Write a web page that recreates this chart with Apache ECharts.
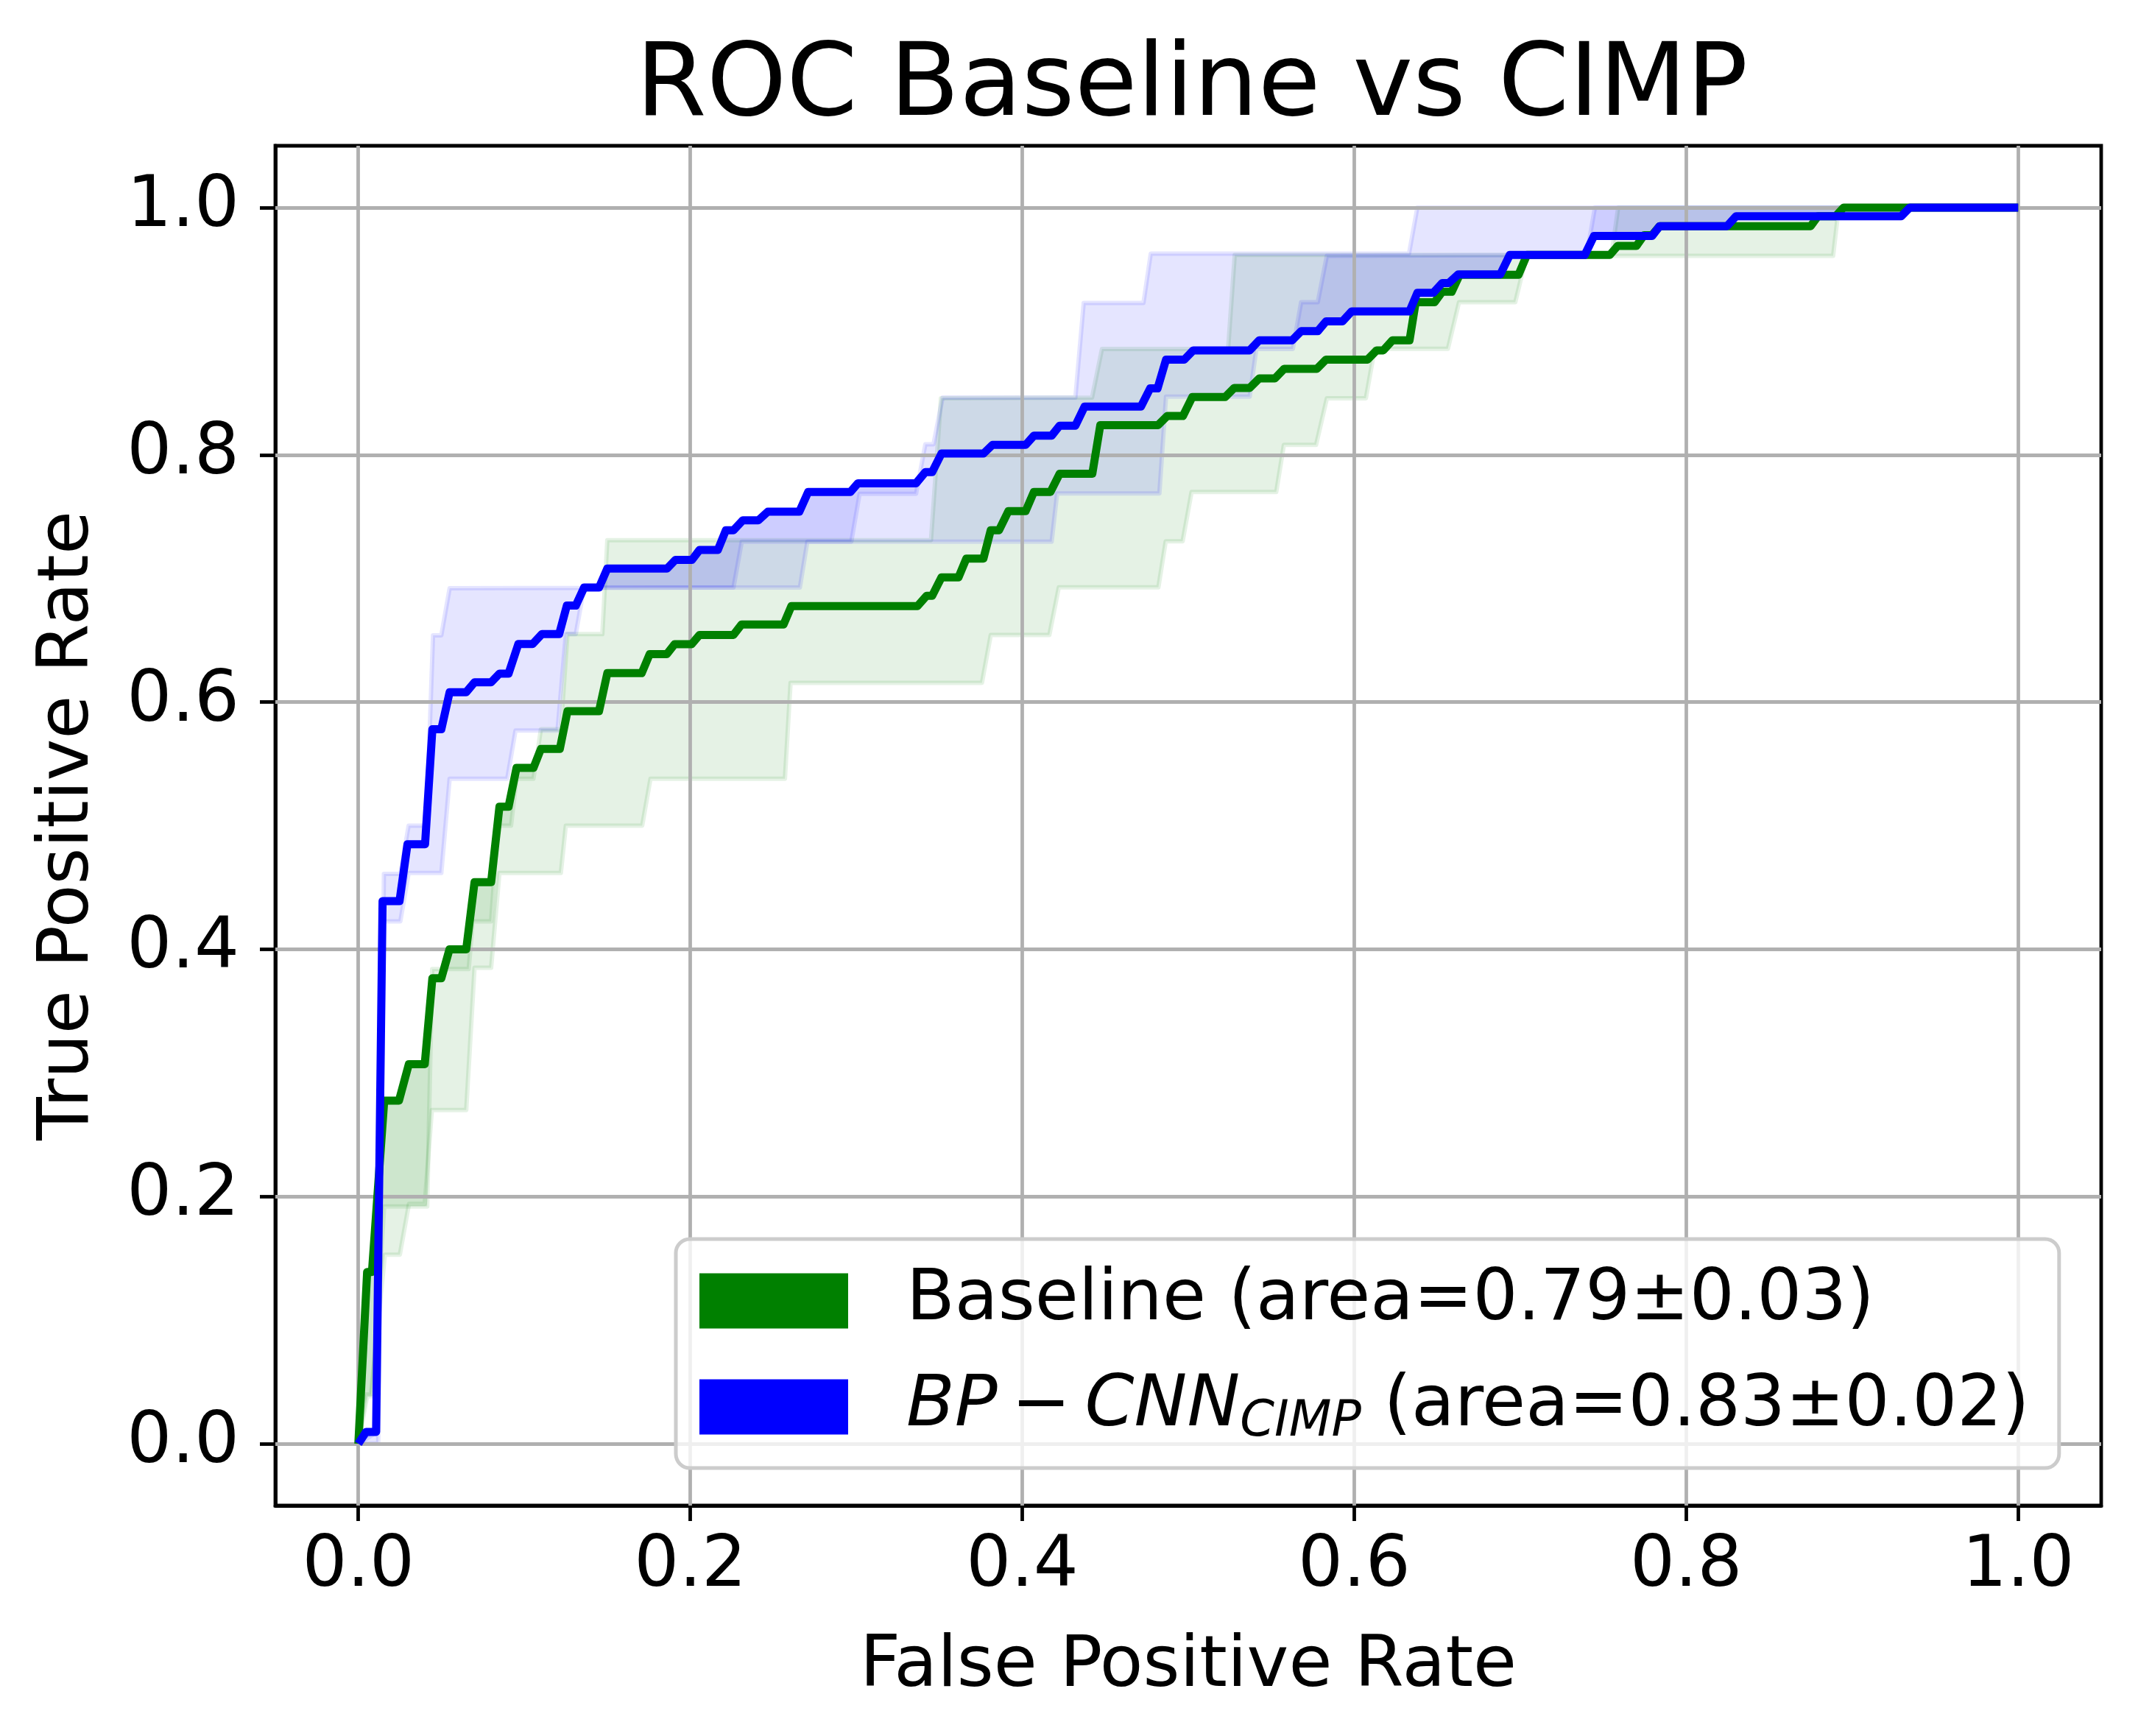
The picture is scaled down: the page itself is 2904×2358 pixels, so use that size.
<!DOCTYPE html>
<html>
<head>
<meta charset="utf-8">
<script src="https://cdn.jsdelivr.net/npm/echarts@6/dist/echarts.min.js"></script>
<style>html,body{margin:0;padding:0;background:#fff;}#c{width:2904px;height:2358px;}</style>
</head>
<body>
<div id="c"></div>
<script>
// ---- tick values ----
const xTicks = [0, 0.2, 0.4, 0.6, 0.8, 1.0];
const yTicks = [0, 0.2, 0.4, 0.6, 0.8, 1.0];

// ---- Baseline: mean ROC (fpr, tpr) ----
const baselineMean = [[0,0],[0.0053,0.139],[0.0082,0.139],[0.0156,0.2776],[0.0245,0.2776],[0.0304,0.307],[0.040,0.307],[0.0446,0.3766],[0.050,0.3766],[0.0549,0.40],[0.065,0.40],[0.070,0.4543],[0.080,0.4543],[0.085,0.5153],[0.0905,0.5153],[0.0953,0.5468],[0.1055,0.5468],[0.110,0.5621],[0.1214,0.5621],[0.126,0.5926],[0.145,0.5926],[0.150,0.6234],[0.1707,0.6234],[0.1755,0.6387],[0.1858,0.6387],[0.1905,0.6468],[0.2008,0.6468],[0.2055,0.6543],[0.226,0.6543],[0.2309,0.6628],[0.2562,0.6628],[0.2609,0.6777],[0.3369,0.6777],[0.3424,0.686],[0.3457,0.686],[0.3513,0.7009],[0.3616,0.7009],[0.3663,0.7161],[0.3766,0.7161],[0.381,0.739],[0.386,0.739],[0.3916,0.7544],[0.402,0.7544],[0.407,0.770],[0.417,0.770],[0.4225,0.7847],[0.4422,0.7847],[0.447,0.824],[0.4818,0.824],[0.4873,0.8314],[0.4968,0.8314],[0.5024,0.8467],[0.5222,0.8467],[0.5277,0.8541],[0.537,0.8541],[0.5427,0.8618],[0.5522,0.8618],[0.5578,0.8696],[0.5775,0.8696],[0.583,0.877],[0.608,0.877],[0.6135,0.8845],[0.6175,0.8845],[0.623,0.8926],[0.6333,0.8926],[0.637,0.9234],[0.6484,0.9234],[0.653,0.9319],[0.6587,0.9319],[0.6635,0.9457],[0.699,0.9457],[0.704,0.9617],[0.754,0.9617],[0.7587,0.969],[0.770,0.969],[0.7746,0.9777],[0.7794,0.9777],[0.784,0.985],[0.875,0.985],[0.8793,0.993],[0.890,0.993],[0.8948,1.0],[1.0,1.0]];
// ---- Baseline: shaded band edges ----
const baselineEdgeHigh = [[0,0],[0.0053,0.0385],[0.0082,0.0385],[0.0156,0.192],[0.0415,0.192],[0.0445,0.384],[0.0665,0.384],[0.0689,0.4226],[0.080,0.4226],[0.084,0.50],[0.092,0.50],[0.0953,0.538],[0.1055,0.538],[0.110,0.578],[0.122,0.578],[0.126,0.655],[0.147,0.655],[0.150,0.731],[0.345,0.731],[0.351,0.8457],[0.442,0.8463],[0.448,0.8856],[0.524,0.8856],[0.528,0.9617],[0.755,0.9617],[0.759,1.0],[1.0,1.0]];
const baselineEdgeLow = [[0,0],[0.0046,0.04],[0.0076,0.04],[0.016,0.153],[0.025,0.153],[0.0305,0.194],[0.040,0.194],[0.0443,0.27],[0.065,0.27],[0.070,0.385],[0.080,0.385],[0.085,0.4617],[0.122,0.4617],[0.125,0.50],[0.171,0.50],[0.176,0.538],[0.257,0.538],[0.2604,0.6156],[0.3757,0.6156],[0.381,0.6542],[0.4163,0.6542],[0.422,0.6928],[0.482,0.6928],[0.4864,0.730],[0.4966,0.730],[0.502,0.77],[0.553,0.77],[0.5576,0.808],[0.577,0.808],[0.5835,0.8457],[0.607,0.8457],[0.6123,0.8857],[0.6564,0.8857],[0.6631,0.9234],[0.697,0.9234],[0.7038,0.961],[0.8885,0.961],[0.8919,1.0],[1.0,1.0]];

// ---- BP-CNN_CIMP: mean ROC ----
const cimpMean = [[0,0],[0.0046,0.0096],[0.0107,0.0096],[0.0146,0.439],[0.0248,0.439],[0.0296,0.485],[0.0402,0.485],[0.0446,0.578],[0.050,0.578],[0.055,0.608],[0.065,0.608],[0.070,0.616],[0.080,0.616],[0.085,0.623],[0.0905,0.623],[0.0964,0.647],[0.105,0.647],[0.1106,0.655],[0.121,0.655],[0.1256,0.678],[0.131,0.678],[0.136,0.6926],[0.145,0.6926],[0.150,0.708],[0.186,0.708],[0.191,0.715],[0.201,0.715],[0.2055,0.723],[0.2166,0.723],[0.2214,0.739],[0.226,0.739],[0.2316,0.747],[0.241,0.747],[0.2467,0.754],[0.2657,0.754],[0.271,0.770],[0.2965,0.770],[0.301,0.777],[0.336,0.777],[0.3416,0.786],[0.3457,0.786],[0.3513,0.801],[0.3766,0.801],[0.382,0.808],[0.402,0.808],[0.407,0.8155],[0.4177,0.8155],[0.4225,0.8236],[0.432,0.8236],[0.4375,0.839],[0.4715,0.839],[0.477,0.8537],[0.4815,0.8537],[0.4866,0.877],[0.4976,0.877],[0.503,0.8845],[0.537,0.8845],[0.5427,0.8926],[0.5625,0.8926],[0.568,0.900],[0.578,0.900],[0.583,0.908],[0.5929,0.908],[0.5984,0.916],[0.6333,0.916],[0.638,0.931],[0.6476,0.931],[0.653,0.939],[0.657,0.939],[0.6627,0.946],[0.688,0.946],[0.6937,0.9617],[0.7389,0.9617],[0.7444,0.977],[0.7794,0.977],[0.784,0.985],[0.8246,0.985],[0.830,0.993],[0.9296,0.993],[0.9347,1.0],[1.0,1.0]];
// ---- BP-CNN_CIMP: shaded band edges ----
const cimpEdgeHigh = [[0,0],[0.012,0.01],[0.0154,0.461],[0.0253,0.461],[0.0303,0.50],[0.041,0.50],[0.045,0.654],[0.050,0.654],[0.055,0.692],[0.226,0.6926],[0.231,0.7298],[0.297,0.7298],[0.302,0.7685],[0.336,0.7685],[0.3416,0.8085],[0.3465,0.8085],[0.352,0.8463],[0.432,0.8463],[0.437,0.9228],[0.473,0.9228],[0.4774,0.9627],[0.633,0.9627],[0.638,1.0],[1.0,1.0]];
const cimpEdgeLow = [[0,0],[0.012,0.0],[0.0154,0.4226],[0.0253,0.4226],[0.0303,0.4617],[0.050,0.4617],[0.055,0.538],[0.0897,0.538],[0.0947,0.577],[0.120,0.577],[0.125,0.655],[0.131,0.655],[0.136,0.6926],[0.266,0.6926],[0.2705,0.7298],[0.4177,0.7298],[0.421,0.7688],[0.4826,0.7688],[0.4866,0.847],[0.537,0.847],[0.541,0.8856],[0.563,0.8856],[0.568,0.9234],[0.578,0.9234],[0.5835,0.961],[0.740,0.9617],[0.745,1.0],[1.0,1.0]];

const FONT = 'DejaVu Sans';
const GREEN = '#008000', BLUE = '#0000ff';

function bandSeries(name, mean, edges, fill) {
  return {
    type: 'custom', name: name, z: 1, silent: true, animation: false,
    data: edges.map((e, i) => [i, i]),
    renderItem: function (params, api) {
      const edge = edges[params.dataIndex];
      const pts = mean.map(p => api.coord(p)).concat(edge.slice().reverse().map(p => api.coord(p)));
      return { type: 'polygon', shape: { points: pts },
        style: { fill: fill, stroke: fill, lineWidth: 6, lineJoin: 'round' } };
    }
  };
}

const chart = echarts.init(document.getElementById('c'), null, { renderer: 'canvas' });
const axisCommon = {
  type: 'value', min: -0.05, max: 1.05,
  axisLine: { show: true, onZero: false, lineStyle: { color: '#000', width: 4.8 } },
  axisTick: { show: true, inside: false, length: 21, lineStyle: { color: '#000', width: 4.8 } },
  splitLine: { show: false },
  nameLocation: 'middle',
  nameTextStyle: { fontSize: 96, color: '#000', fontFamily: FONT }
};
chart.setOption({
  animation: false,
  backgroundColor: '#fff',
  title: {
    text: 'ROC Baseline vs CIMP', left: 1614, top: 46, textAlign: 'center',
    textStyle: { fontSize: 138, fontWeight: 'normal', color: '#000', fontFamily: FONT }
  },
  grid: { left: 374, top: 198, width: 2480, height: 1847, show: true, borderColor: '#000', borderWidth: 4.8, backgroundColor: 'transparent' },
  xAxis: Object.assign({}, axisCommon, {
    name: 'False Positive Rate', nameGap: 172,
    axisTick: Object.assign({}, axisCommon.axisTick, { customValues: xTicks }),
    axisLabel: { customValues: xTicks, formatter: v => v.toFixed(1), margin: 36, fontSize: 96, color: '#000', fontFamily: FONT }
  }),
  yAxis: Object.assign({}, axisCommon, {
    name: 'True Positive Rate', nameGap: 232,
    axisTick: Object.assign({}, axisCommon.axisTick, { customValues: yTicks }),
    axisLabel: { customValues: yTicks, formatter: v => v.toFixed(1), margin: 49, fontSize: 96, color: '#000', fontFamily: FONT }
  }),
  legend: {
    orient: 'vertical', left: 918, top: 1683,
    data: [{ name: 'Baseline', icon: 'rect' }, { name: 'BP-CNN', icon: 'rect' }],
    itemWidth: 202, itemHeight: 75, itemGap: 48,
    padding: [36, 40, 28, 32],
    backgroundColor: 'rgba(255,255,255,0.8)', borderColor: '#cccccc', borderWidth: 5, borderRadius: 19,
    selectedMode: false,
    formatter: function (name) {
      return name === 'Baseline' ? '{t|Baseline (area=0.79\u00b10.03)}'
        : '{i|BP\u2009\u2212\u2009CNN}{s|CIMP}{t| (area=0.83\u00b10.02)}';
    },
    textStyle: {
      padding: [0, 0, 0, 74], fontSize: 96, fontFamily: FONT, color: '#000',
      rich: {
        t: { fontSize: 96, fontFamily: FONT, color: '#000', lineHeight: 110 },
        i: { fontSize: 96, fontFamily: FONT, fontStyle: 'italic', color: '#000', lineHeight: 110 },
        s: { fontSize: 67, fontFamily: FONT, fontStyle: 'italic', color: '#000', lineHeight: 56, verticalAlign: 'bottom' }
      }
    }
  },
  series: [
    bandSeries('bandBaseline', baselineMean, [baselineEdgeHigh, baselineEdgeLow], 'rgba(0,128,0,0.1)'),
    bandSeries('bandCimp', cimpMean, [cimpEdgeHigh, cimpEdgeLow], 'rgba(0,0,255,0.1)'),
    {
      type: 'line', name: 'grid', data: [], z: 2, silent: true,
      markLine: {
        z: 2, silent: true, symbol: ['none', 'none'], label: { show: false }, animation: false,
        lineStyle: { color: '#b0b0b0', width: 4.8, type: 'solid' },
        emphasis: { disabled: true },
        data: xTicks.map(v => ({ xAxis: v })).concat(yTicks.map(v => ({ yAxis: v })))
      }
    },
    { type: 'line', name: 'Baseline', data: baselineMean, z: 3, showSymbol: false, color: GREEN,
      lineStyle: { color: GREEN, width: 11, join: 'round' }, silent: true },
    { type: 'line', name: 'BP-CNN', data: cimpMean, z: 4, showSymbol: false, color: BLUE,
      lineStyle: { color: BLUE, width: 11, join: 'round' }, silent: true }
  ]
});
</script>
</body>
</html>
